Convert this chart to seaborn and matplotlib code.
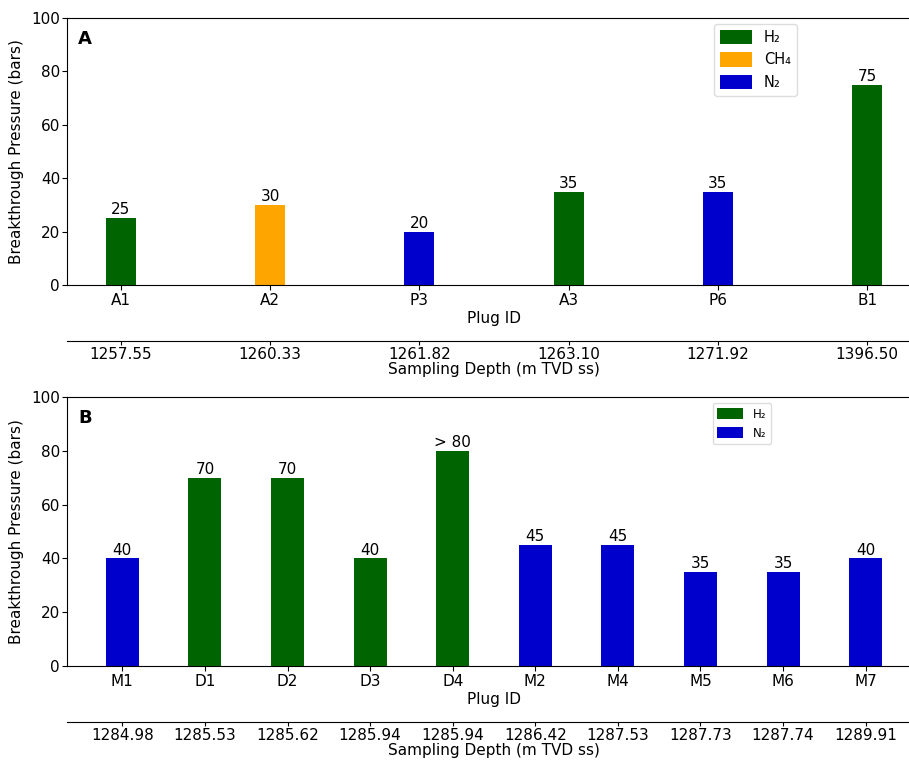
import matplotlib
matplotlib.use("Agg")
import matplotlib.pyplot as plt
import seaborn as sns
import pandas as pd
from matplotlib.patches import Patch

# ---- data ----
plugs_a = ["A1", "A2", "P3", "A3", "P6", "B1"]
depths_a = ["1257.55", "1260.33", "1261.82", "1263.10", "1271.92", "1396.50"]
pressure_a = [25, 30, 20, 35, 35, 75]
gas_a = ["H₂", "CH₄", "N₂", "H₂", "N₂", "H₂"]
labels_a = ["25", "30", "20", "35", "35", "75"]

plugs_b = ["M1", "D1", "D2", "D3", "D4", "M2", "M4", "M5", "M6", "M7"]
depths_b = ["1284.98", "1285.53", "1285.62", "1285.94", "1285.94",
            "1286.42", "1287.53", "1287.73", "1287.74", "1289.91"]
pressure_b = [40, 70, 70, 40, 80, 45, 45, 35, 35, 40]
gas_b = ["N₂", "H₂", "H₂", "H₂", "H₂", "N₂", "N₂", "N₂", "N₂", "N₂"]
labels_b = ["40", "70", "70", "40", "> 80", "45", "45", "35", "35", "40"]

gas_colors = {"H₂": "#006400", "CH₄": "#FFA500", "N₂": "#0000CD"}

plt.rcParams['font.family'] = ['DejaVu Sans']

fig = plt.figure(figsize=(9.09, 7.61), dpi=100)
W, H = 909, 761

def panel(rect, plugs, depths, pressure, gas, labels, width, letter,
          legend_order, legend_fs, legend_anchor, lspacing, hheight, hlen):
    ax = fig.add_axes(rect)
    df = pd.DataFrame({"plug": plugs, "p": pressure, "gas": gas})
    sns.barplot(data=df, x="plug", y="p", hue="gas", dodge=False,
                palette=gas_colors, width=width, ax=ax, legend=False,
                saturation=1)
    n = len(plugs)
    m = 0.05 * (n - 1 + width)
    ax.set_xlim(-width / 2 - m, n - 1 + width / 2 + m)
    ax.set_ylim(0, 100)
    ax.set_yticks(range(0, 101, 20))
    ax.tick_params(axis="x", labelsize=11, pad=2.5)
    ax.tick_params(axis="y", labelsize=11, pad=1.5, length=3.5)
    ax.set_xlabel("Plug ID", fontsize=11, labelpad=2)
    ax.set_ylabel("Breakthrough Pressure (bars)", fontsize=11, labelpad=5)
    # bar value labels
    for i in range(n):
        ax.text(i, pressure[i] + 0.3, labels[i], ha="center", va="bottom",
                fontsize=11)
    ax.text(0.013, 0.922, letter, transform=ax.transAxes, fontsize=13,
            fontweight="bold", va="center", ha="left")
    handles = [Patch(facecolor=gas_colors[g], label=g) for g in legend_order]
    ax.legend(handles=handles, loc="upper left", bbox_to_anchor=legend_anchor,
              borderaxespad=0, fontsize=legend_fs, framealpha=1,
              edgecolor="#dddddd", labelspacing=lspacing,
              handleheight=hheight, handlelength=hlen)
    ax2 = ax.twiny()
    ax2.set_xlim(ax.get_xlim())
    ax2.xaxis.set_ticks_position("bottom")
    ax2.xaxis.set_label_position("bottom")
    ax2.spines["bottom"].set_position(("outward", 40))
    for s in ["top", "left", "right"]:
        ax2.spines[s].set_visible(False)
    ax2.set_xticks(range(n))
    ax2.set_xticklabels(depths)
    ax2.tick_params(labelsize=11, pad=1.5, length=3)
    ax2.set_xlabel("Sampling Depth (m TVD ss)", fontsize=11, labelpad=0.5)
    return ax

left = 67 / W
width_f = (921 - 67) / W
panel([left, 1 - 285 / H, width_f, (285 - 18) / H], plugs_a, depths_a,
      pressure_a, gas_a, labels_a, 0.2, "A", ["H₂", "CH₄", "N₂"], 10.5,
      (0.758, 0.978), 0.5, 1.15, 2.2)
panel([left, 1 - 666 / H, width_f, (666 - 397) / H], plugs_b, depths_b,
      pressure_b, gas_b, labels_b, 0.4, "B", ["H₂", "N₂"], 8.5,
      (0.756, 0.978), 0.5, 1.0, 2.2)

fig.savefig("out.png", dpi=100)
